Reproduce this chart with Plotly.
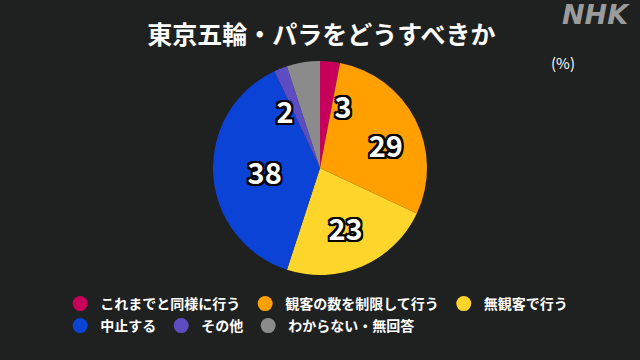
import plotly.graph_objects as go

categories = ["これまでと同様に行う", "観客の数を制限して行う", "無観客で行う", "中止する", "その他", "わからない・無回答"]
values = [3, 29, 23, 38, 2, 5]
labels_shown = ["3", "29", "23", "38", "2", ""]
colors = ["#c6005b", "#ff9f00", "#fdd52b", "#0b43d6", "#5d4dc2", "#8b8b8b"]
legend_rows = ["legend", "legend", "legend", "legend2", "legend2", "legend2"]
# which label layer draws each value label
label_layer = ["small", "mid", "inside", "inside", "small", "none"]

FONT = "Noto Sans CJK JP"
BG = "#1e2120"
SHADOW = ("2px 2px 0 #000, -2px -2px 0 #000, 2px -2px 0 #000, -2px 2px 0 #000, "
          "0 2px 0 #000, 0 -2px 0 #000, 2px 0 0 #000, -2px 0 0 #000")
LABFONT = dict(family=FONT, size=29, color="white", weight="bold", shadow=SHADOW)

cx, cy, R = 320 / 640, 1 - 168 / 360, 107
rx, ry = R / 640, R / 360


def layer_text(layer):
    return [t if l == layer else "" for t, l in zip(labels_shown, label_layer)]


fig = go.Figure()
# coloured pie (carries the labels of the big lower slices inside)
fig.add_trace(go.Pie(
    labels=categories, values=values, text=layer_text("inside"),
    textinfo="text", textposition="inside", insidetextorientation="horizontal",
    insidetextfont=LABFONT,
    sort=False, direction="clockwise", rotation=0,
    marker=dict(colors=colors, line=dict(width=0)),
    domain=dict(x=[cx - rx, cx + rx], y=[cy - ry, cy + ry]),
    showlegend=False, hoverinfo="skip",
))
# transparent inner pies carrying the other value labels just outside their edge
r2 = 0.40
for layer in ["mid", "small"]:
    fig.add_trace(go.Pie(
        labels=categories, values=values, text=layer_text(layer),
        textinfo="text", textposition="outside",
        sort=False, direction="clockwise", rotation=0,
        marker=dict(colors=["rgba(0,0,0,0)"] * len(values), line=dict(width=0)),
        outsidetextfont=LABFONT,
        domain=dict(x=[cx - rx * r2, cx + rx * r2], y=[cy - ry * r2, cy + ry * r2]),
        showlegend=False, hoverinfo="skip",
    ))
for name, col, lg in zip(categories, colors, legend_rows):
    fig.add_trace(go.Scatter(x=[None], y=[None], mode="markers", name=name, legend=lg,
                             marker=dict(symbol="circle", size=15, color=col), showlegend=True))

legfont = dict(family=FONT, size=14, color="white", weight="bold")
fig.update_layout(
    width=640, height=360,
    paper_bgcolor=BG, plot_bgcolor=BG,
    margin=dict(l=0, r=0, t=0, b=0, autoexpand=False),
    xaxis=dict(visible=False), yaxis=dict(visible=False),
    uniformtext=dict(minsize=29, mode="show"),
    title=dict(text="東京五輪・パラをどうすべきか", x=0.502, xanchor="center", y=1 - 35 / 360, yanchor="middle",
               font=dict(family=FONT, size=25, color="white", weight="bold")),
    legend=dict(orientation="h", x=0.094, xanchor="left", y=1 - 304 / 360, yanchor="middle",
                font=legfont, bgcolor="rgba(0,0,0,0)", itemwidth=30),
    legend2=dict(orientation="h", x=0.094, xanchor="left", y=1 - 326 / 360, yanchor="middle",
                 font=legfont, bgcolor="rgba(0,0,0,0)", itemwidth=30),
    annotations=[
        dict(text="(%)", x=563 / 640, y=1 - 62 / 360, xref="paper", yref="paper", showarrow=False,
             xanchor="center", yanchor="middle",
             font=dict(family=FONT, size=15, color="white")),
        dict(text="<i>NHK</i>", x=632 / 640, y=1 - 15 / 360, xref="paper", yref="paper",
             xanchor="right", yanchor="middle", showarrow=False,
             font=dict(family="DejaVu Sans", size=27, color="#9b9b9b", weight="bold")),
    ],
)
fig.write_html("out.html", config={"displayModeBar": False},
               post_script="document.body.style.margin='0';document.body.style.background='%s';" % BG)
